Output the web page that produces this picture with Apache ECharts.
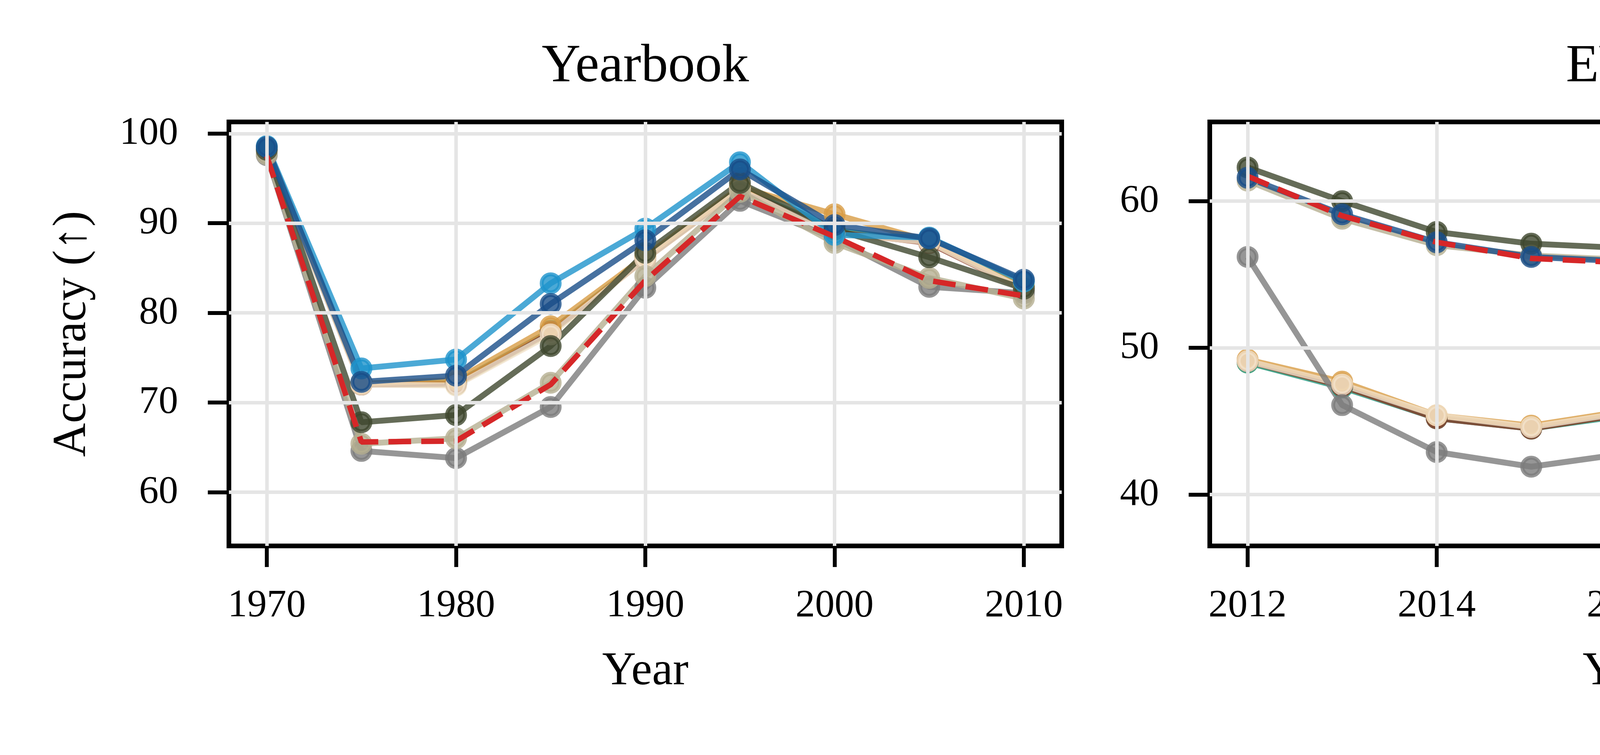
<!DOCTYPE html>
<html><head><meta charset="utf-8">
<script src="https://cdn.jsdelivr.net/npm/echarts@6/dist/echarts.min.js"></script>
<style>html,body{margin:0;padding:0;background:#fff;overflow:hidden}#c{width:7858px;height:1932px}</style>
</head><body><div id="c"></div>
<script>
// ---------------- DATA ----------------
const panelTitles = ['Yearbook', 'EVIS', 'FMoW-Time'];
const legendCol1 = ['BN', 'TENT', 'CoTTA', 'SHOT', 'SAR'];
const legendCol2 = ['RoTTA', 'LAME', 'T3A', 'STAD-vMF', 'Source'];

const ybYears = [1970, 1975, 1980, 1985, 1990, 1995, 2000, 2005, 2010];
const ybBN    = [98.3, 72.0, 72.0, 77.8, 86.0, 93.8, 89.0, 87.9, 82.7];
const ybTENT  = [98.3, 72.1, 72.2, 78.0, 86.1, 93.9, 89.2, 88.0, 82.8];
const ybCoTTA = [98.3, 72.0, 72.1, 77.9, 86.0, 93.8, 89.0, 87.8, 82.6];
const ybSHOT  = [98.4, 72.1, 72.5, 78.5, 86.3, 94.0, 91.0, 88.0, 83.0];
const ybSAR   = [98.3, 72.0, 71.9, 77.6, 86.0, 93.7, 88.8, 87.9, 82.6];
const ybRoTTA = [97.6, 64.6, 63.8, 69.5, 82.8, 92.5, 88.3, 82.9, 82.2];
const ybLAME  = [97.7, 65.4, 66.0, 72.2, 84.1, 93.5, 87.8, 83.9, 81.6];
const ybT3A   = [98.2, 67.8, 68.6, 76.3, 86.7, 94.5, 89.3, 86.2, 82.7];
const ybSTADG = [98.6, 73.8, 74.8, 83.3, 89.4, 96.8, 88.7, 88.4, 83.5];
const ybSTAD  = [98.5, 72.3, 73.0, 81.0, 88.1, 96.0, 89.8, 88.3, 83.7];
const ybSource= [97.5, 65.6, 65.7, 72.0, 83.6, 93.0, 88.5, 83.6, 81.9];

const evYears = [2012, 2013, 2014, 2015, 2016, 2017, 2018, 2019, 2020];
const evBN    = [49.0, 47.4, 45.3, 44.5, 45.5, 44.3, 44.8, 44.3, 46.2];
const evTENT  = [49.0, 47.3, 45.2, 44.5, 45.4, 44.3, 44.7, 44.2, 46.0];
const evCoTTA = [49.1, 47.4, 45.2, 44.5, 45.5, 44.2, 44.6, 44.1, 46.1];
const evSHOT  = [49.2, 47.7, 45.4, 44.7, 45.7, 44.7, 45.1, 44.7, 46.8];
const evSAR   = [49.1, 47.5, 45.4, 44.6, 45.6, 44.4, 44.9, 44.4, 46.3];
const evRoTTA = [56.2, 46.1, 42.9, 41.9, 42.8, 41.7, 42.0, 41.0, 43.9];
const evLAME  = [61.4, 58.8, 57.0, 56.3, 56.0, 55.0, 54.2, 54.5, 56.6];
const evT3A   = [62.3, 60.0, 57.9, 57.1, 56.8, 56.0, 55.1, 55.9, 57.4];
const evSTAD  = [61.6, 59.1, 57.2, 56.2, 55.9, 55.1, 54.0, 54.4, 56.4];
const evSource= [61.7, 59.0, 57.2, 56.1, 55.8, 55.1, 54.0, 54.6, 56.3];

const fmYears = [2013, 2014, 2015, 2016, 2017];
const fmBN    = [79.7, 80.4, 77.8, 55.2, 47.0];
const fmTENT  = [79.6, 80.3, 77.6, 55.1, 47.3];
const fmCoTTA = [79.7, 80.4, 77.7, 57.0, 47.8];
const fmSHOT  = [79.8, 80.5, 77.9, 55.3, 47.5];
const fmSAR   = [79.9, 80.6, 78.0, 55.4, 47.0];
const fmRoTTA = [79.4, 80.1, 77.0, 54.8, 47.2];
const fmLAME  = [79.8, 80.7, 78.2, 55.0, 46.5];
const fmT3A   = [78.9, 79.0, 75.9, 54.5, 46.8];
const fmSTAD  = [80.7, 81.6, 78.9, 55.2, 48.4];
const fmSource= [80.7, 81.5, 78.8, 55.0, 48.6];

const ybXTicks = [1970, 1980, 1990, 2000, 2010];
const ybYTicks = [60, 70, 80, 90, 100];
const evXTicks = [2012, 2014, 2016, 2018, 2020];
const evYTicks = [40, 50, 60];
const fmXTicks = [2013, 2014, 2015, 2016, 2017];
const fmYTicks = [50, 60, 70, 80];

// ---------------- STYLE ----------------
const FONT = 'Liberation Serif';
const rgb = {
  'BN': [172, 191, 116], 'TENT': [40, 152, 131], 'CoTTA': [136, 56, 35],
  'SHOT': [216, 156, 69], 'SAR': [242, 226, 204], 'RoTTA': [124, 124, 124],
  'LAME': [181, 175, 145], 'T3A': [62, 71, 46], 'STAD-vMF': [25, 77, 136],
  'STAD-G': [30, 147, 204]
};
const A = 0.8;
const rgba = (k) => `rgba(${rgb[k][0]},${rgb[k][1]},${rgb[k][2]},${A})`;

const gridsPx = [
  {left: 586, top: 312, width: 2132, height: 1085},
  {left: 3097, top: 312, width: 2130, height: 1085},
  {left: 5607, top: 312, width: 2130, height: 1085}
];
const xRanges = [[1968, 2012], [2011.6, 2020.4], [2012.8, 2017.2]];
const yRanges = [[54.0, 101.3], [36.5, 65.4], [44.0, 83.1]];
const xTickSets = [ybXTicks, evXTicks, fmXTicks];
const yTickSets = [ybYTicks, evYTicks, fmYTicks];

function lineSeries(name, key, years, vals, gi) {
  return {
    type: 'line', name: name, xAxisIndex: gi, yAxisIndex: gi, z: 2,
    data: years.map((y, i) => [y, vals[i]]),
    symbol: 'circle', symbolSize: 46, showSymbol: true,
    lineStyle: {color: rgba(key), width: 15},
    itemStyle: {color: rgba(key), borderColor: rgba(key), borderWidth: 10},
    emphasis: {disabled: true}, animation: false
  };
}
function sourceSeries(years, vals, gi) {
  return {
    type: 'line', name: 'Source', xAxisIndex: gi, yAxisIndex: gi, z: 3,
    data: years.map((y, i) => [y, vals[i]]),
    symbol: 'none', showSymbol: false,
    lineStyle: {color: '#d62728', width: 14, type: [58, 26]},
    itemStyle: {color: '#d62728'},
    emphasis: {disabled: true}, animation: false
  };
}
function gridSeries(gi) {
  const xs = xTickSets[gi], ys = yTickSets[gi];
  return {
    type: 'line', xAxisIndex: gi, yAxisIndex: gi, z: 1, silent: true,
    data: [], symbol: 'none',
    markLine: {
      silent: true, symbol: ['none', 'none'], label: {show: false},
      lineStyle: {color: '#e5e5e5', width: 9, type: 'solid'},
      emphasis: {disabled: true}, animation: false,
      data: xs.map(v => ({xAxis: v})).concat(ys.map(v => ({yAxis: v})))
    }
  };
}

const panels = [
  {years: ybYears, d: {BN: ybBN, TENT: ybTENT, CoTTA: ybCoTTA, SHOT: ybSHOT, SAR: ybSAR, RoTTA: ybRoTTA, LAME: ybLAME, T3A: ybT3A, 'STAD-vMF': ybSTAD}, extra: ybSTADG, src: ybSource},
  {years: evYears, d: {BN: evBN, TENT: evTENT, CoTTA: evCoTTA, SHOT: evSHOT, SAR: evSAR, RoTTA: evRoTTA, LAME: evLAME, T3A: evT3A, 'STAD-vMF': evSTAD}, src: evSource},
  {years: fmYears, d: {BN: fmBN, TENT: fmTENT, CoTTA: fmCoTTA, SHOT: fmSHOT, SAR: fmSAR, RoTTA: fmRoTTA, LAME: fmLAME, T3A: fmT3A, 'STAD-vMF': fmSTAD}, src: fmSource}
];

const series = [];
panels.forEach((p, gi) => {
  series.push(gridSeries(gi));
  ['BN', 'TENT', 'CoTTA', 'SHOT', 'SAR', 'RoTTA', 'LAME', 'T3A'].forEach(k => series.push(lineSeries(k, k, p.years, p.d[k], gi)));
  if (p.extra) series.push(lineSeries('STAD-G', 'STAD-G', p.years, p.extra, gi));
  series.push(lineSeries('STAD-vMF', 'STAD-vMF', p.years, p.d['STAD-vMF'], gi));
  series.push(sourceSeries(p.years, p.src, gi));
});

const tickLabelStyle = {fontFamily: FONT, fontSize: 100, color: '#000'};
const xAxes = gridsPx.map((g, i) => ({
  type: 'value', gridIndex: i, min: xRanges[i][0], max: xRanges[i][1],
  splitLine: {show: false}, axisLine: {show: false},
  axisTick: {show: true, length: 54, lineStyle: {color: '#000', width: 10}, customValues: xTickSets[i]},
  axisLabel: Object.assign({margin: 104, customValues: xTickSets[i], formatter: v => String(v)}, tickLabelStyle),
  name: 'Year', nameLocation: 'middle', nameGap: 262,
  nameTextStyle: {fontFamily: FONT, fontSize: 120, color: '#000'}
}));
const yAxes = gridsPx.map((g, i) => ({
  type: 'value', gridIndex: i, min: yRanges[i][0], max: yRanges[i][1],
  splitLine: {show: false}, axisLine: {show: false},
  axisTick: {show: true, length: 54, lineStyle: {color: '#000', width: 10}, customValues: yTickSets[i]},
  axisLabel: Object.assign({margin: 130, customValues: yTickSets[i], formatter: v => String(v)}, tickLabelStyle),
  name: i === 0 ? 'Accuracy (↑)' : '', nameLocation: 'middle', nameGap: 340,
  nameTextStyle: {fontFamily: FONT, fontSize: 120, color: '#000'}
}));

const legendItem = (n) => n === 'Source' ? {name: n, itemStyle: {opacity: 0}} : {name: n};
const legendCommon = {
  orient: 'vertical', top: 629, padding: 0, itemWidth: 217, itemHeight: 66, itemGap: 49,
  selectedMode: false, z: 5,
  lineStyle: {width: 15},
  textStyle: {fontFamily: FONT, fontSize: 103, color: '#000', lineHeight: 100, padding: [0, 0, 0, 66]}
};

const option = {
  backgroundColor: '#fff',
  animation: false,
  grid: gridsPx.map(g => Object.assign({show: true, borderColor: '#000', borderWidth: 12, backgroundColor: 'transparent', containLabel: false}, g)),
  xAxis: xAxes,
  yAxis: yAxes,
  legend: [
    Object.assign({left: 5741, data: legendCol1.map(legendItem)}, legendCommon),
    Object.assign({left: 6539, data: legendCol2.map(legendItem)}, legendCommon)
  ],
  graphic: [
    {type: 'rect', z: 4, silent: true, shape: {x: 5710, y: 602, width: 1656, height: 775, r: 30},
     style: {fill: 'rgba(255,255,255,0.8)', stroke: 'rgba(204,204,204,0.8)', lineWidth: 14}}
  ].concat(panelTitles.map((t, i) => ({
    type: 'text', z: 10, silent: true,
    x: gridsPx[i].left + gridsPx[i].width / 2, y: 172,
    style: {text: t, font: `138px "${FONT}"`, fill: '#000', textAlign: 'center', textVerticalAlign: 'middle'}
  }))),
  series: series
};

const chart = echarts.init(document.getElementById('c'), null, {renderer: 'canvas'});
chart.setOption(option);
</script>
</body></html>
